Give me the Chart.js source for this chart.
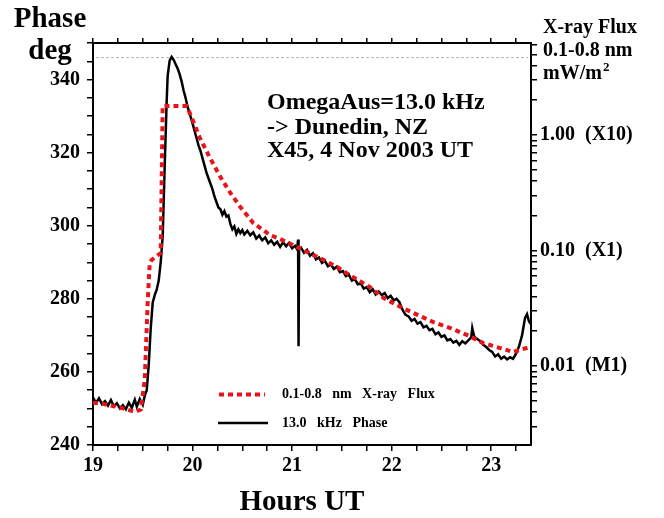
<!DOCTYPE html>
<html>
<head>
<meta charset="utf-8">
<script src="https://cdn.jsdelivr.net/npm/chart.js@4.4.1/dist/chart.umd.min.js"></script>
<style>
  html, body { margin: 0; padding: 0; background: #fff; }
  #wrap { width: 664px; height: 518px; }
</style>
</head>
<body>
<div id="wrap"><canvas id="phaseChart" width="664" height="518"></canvas></div>
<script>
// 13.0 kHz phase (deg) vs time (hours UT)
const phasePoints = [
  [19.00,253.0],[19.03,251.5],[19.06,252.8],[19.09,251.2],[19.12,252.0],[19.15,250.8],[19.18,252.3],
  [19.21,250.6],[19.24,251.4],[19.27,250.0],[19.30,250.9],[19.33,249.8],[19.36,251.6],[19.39,250.2],
  [19.42,252.4],[19.44,250.5],[19.47,252.6],[19.50,251.0],[19.52,253.5],[19.54,255],[19.56,262],
  [19.58,272],[19.60,279],[19.62,281],[19.64,282.5],[19.66,285],[19.68,290],[19.70,297],[19.72,316],
  [19.74,334],[19.75,341],[19.77,345.2],[19.79,346.2],[19.81,345.4],[19.83,344.2],[19.85,343],
  [19.87,341.5],[19.89,339.5],[19.91,337],[19.93,335],[19.95,332.5],[19.97,330.8],[20.00,328],
  [20.02,326],[20.04,324],[20.06,322],[20.08,320.5],[20.10,318.5],[20.12,316.5],[20.14,314.5],
  [20.16,313],[20.18,311.5],[20.20,310],[20.22,308],[20.24,306.5],[20.26,305],[20.28,304.5],
  [20.30,303],[20.32,304],[20.34,302.5],[20.36,302.8],[20.38,300.5],[20.40,299],[20.42,299.8],
  [20.44,297.8],[20.46,299],[20.48,298],[20.50,298.8],[20.52,297.6],[20.55,298.6],[20.58,297.4],
  [20.61,298.2],[20.64,296.5],[20.67,297.3],[20.70,296],[20.73,296.8],[20.76,295.2],[20.79,296],
  [20.82,294.8],[20.85,295.6],[20.88,294.2],[20.91,295.5],[20.94,294.4],[20.97,295.3],[21.00,293.8],
  [21.03,294.5],[21.05,293.6],[21.06,296.2],[21.065,267],[21.07,293.5],[21.09,294],[21.12,292.6],
  [21.15,293.4],[21.18,291.8],[21.21,292.5],[21.24,290.8],[21.27,291.3],[21.30,289.8],[21.33,290.4],
  [21.36,288.9],[21.39,289.4],[21.42,288.2],[21.45,288.8],[21.48,287.3],[21.51,287.6],[21.54,286.2],
  [21.57,286.6],[21.60,285],[21.63,285.4],[21.66,284],[21.69,284.2],[21.72,282.8],[21.75,283.2],
  [21.78,281.8],[21.81,282.6],[21.84,281.2],[21.87,282],[21.90,281],[21.93,281.6],[21.96,280.2],
  [21.99,280.8],[22.02,279.6],[22.05,280],[22.08,279],[22.10,277.5],[22.12,276.5],[22.14,275.6],
  [22.17,275.2],[22.20,274],[22.23,274.5],[22.26,273.2],[22.29,273.6],[22.32,272.2],[22.35,272.6],
  [22.38,271.4],[22.41,271.8],[22.44,270.3],[22.47,270.8],[22.50,269.6],[22.53,270],[22.56,268.6],
  [22.59,269],[22.62,268],[22.65,268.5],[22.68,267.4],[22.71,268.4],[22.74,267.8],[22.77,268.6],
  [22.80,269.5],[22.81,272],[22.83,269.6],[22.86,269],[22.89,268.4],[22.92,267.4],[22.95,266.8],
  [22.98,266],[23.01,265.5],[23.04,264.2],[23.07,264.8],[23.10,263.6],[23.13,264.2],[23.16,263.4],
  [23.19,264],[23.22,263.6],[23.25,265],[23.28,267],[23.31,270],[23.34,274.8],[23.36,275.8],
  [23.38,273.8],[23.40,273]
];

// GOES 0.1-0.8 nm X-ray flux (mW/m^2) vs time (hours UT)
const fluxPoints = [
  [19.00,0.0048],[19.10,0.0047],[19.20,0.0045],[19.30,0.0043],[19.42,0.0040],[19.48,0.0042],
  [19.52,0.0076],[19.55,0.037],[19.57,0.078],[19.59,0.083],[19.65,0.091],[19.68,0.095],
  [19.70,1.78],[19.94,1.78],[19.99,1.43],[20.07,0.96],[20.17,0.645],[20.28,0.433],[20.38,0.315],
  [20.48,0.238],[20.61,0.173],[20.78,0.136],[20.95,0.1185],[21.11,0.101],[21.28,0.086],
  [21.45,0.072],[21.61,0.059],[21.78,0.0483],[21.92,0.0388],[22.09,0.0324],[22.26,0.0277],
  [22.42,0.0240],[22.59,0.0213],[22.76,0.0185],[22.92,0.0158],[23.09,0.0143],[23.22,0.0132],
  [23.29,0.0138],[23.39,0.0146]
];

// reference level of the phase peak
const peakLevel = 346;
const peakSpan = [19.03, 23.37];

const hourMajor = [19, 20, 21, 22, 23];
const phaseMajor = [240, 260, 280, 300, 320, 340];
const fluxMajor = [0.01, 0.1, 1];
const fluxLabels = ['0.01  (M1)', '0.10  (X1)', '1.00  (X10)'];

const xRange = [19, 23.4];
const phaseRange = [240, 350];
const fluxRange = [0.00207, 6.26];

const serif = '"Liberation Serif", "Times New Roman", serif';
const tickFont = { family: serif, weight: 'bold', size: 20 };

function toXY(pairs) {
  return pairs.map(p => ({ x: p[0], y: p[1] }));
}

function hourTicks(scale) {
  const ticks = [];
  for (let i = 0; 19 + i * 0.25 <= xRange[1] + 1e-9; i++) {
    ticks.push({ value: 19 + i * 0.25 });
  }
  scale.ticks = ticks;
}

function axisGrid(len) {
  return { drawOnChartArea: false, drawTicks: true, tickLength: len, color: '#000', lineWidth: 1.5 };
}

const axisBorder = { display: true, color: '#000', width: 2 };

// titles, annotation and legend drawn straight on the canvas
const textPlugin = {
  id: 'textPlugin',
  afterDraw(chart) {
    const ctx = chart.ctx;
    ctx.save();
    ctx.fillStyle = '#000';
    ctx.textBaseline = 'alphabetic';

    ctx.font = 'bold 29px ' + serif;
    ctx.textAlign = 'center';
    ctx.fillText('Phase', 50, 27);
    ctx.fillText('deg', 50, 59);
    ctx.fillText('Hours UT', 302, 510);

    ctx.textAlign = 'left';
    ctx.font = 'bold 20px ' + serif;
    ctx.fillText('X-ray Flux', 543, 33);
    ctx.fillText('0.1-0.8 nm', 543, 56);
    ctx.fillText('mW/m', 543, 79);
    const w = ctx.measureText('mW/m').width;
    ctx.font = 'bold 13px ' + serif;
    ctx.fillText('2', 543 + w + 1, 71);

    ctx.font = 'bold 24px ' + serif;
    ctx.fillText('OmegaAus=13.0 kHz', 267, 109);
    ctx.fillText('-> Dunedin, NZ', 267, 134);
    ctx.fillText('X45, 4 Nov 2003 UT', 267, 157);

    // legend
    ctx.lineWidth = 4;
    ctx.strokeStyle = '#e8141a';
    ctx.setLineDash([5, 4]);
    ctx.beginPath();
    ctx.moveTo(219, 394.5);
    ctx.lineTo(265, 394.5);
    ctx.stroke();
    ctx.setLineDash([]);
    ctx.lineWidth = 2.5;
    ctx.strokeStyle = '#000';
    ctx.beginPath();
    ctx.moveTo(218, 423);
    ctx.lineTo(268, 423);
    ctx.stroke();

    ctx.font = 'bold 14px ' + serif;
    ctx.fillText('0.1-0.8   nm   X-ray   Flux', 282, 398);
    ctx.fillText('13.0   kHz   Phase', 282, 427);
    ctx.restore();
  }
};

const ctx = document.getElementById('phaseChart').getContext('2d');
new Chart(ctx, {
  type: 'line',
  data: {
    datasets: [
      {
        label: '0.1-0.8 nm X-ray Flux',
        data: toXY(fluxPoints),
        yAxisID: 'y2',
        borderColor: '#e8141a',
        borderWidth: 4,
        borderDash: [5, 4],
        pointRadius: 0,
        tension: 0
      },
      {
        label: '13.0 kHz Phase',
        data: toXY(phasePoints),
        yAxisID: 'y',
        borderColor: '#000',
        borderWidth: 2.5,
        pointRadius: 0,
        tension: 0
      },
      {
        label: 'peak',
        data: [{ x: peakSpan[0], y: peakLevel }, { x: peakSpan[1], y: peakLevel }],
        yAxisID: 'y',
        borderColor: '#b4b4b4',
        borderWidth: 1,
        borderDash: [3, 2],
        pointRadius: 0
      }
    ]
  },
  options: {
    responsive: false,
    animation: false,
    devicePixelRatio: 1,
    layout: { padding: 0 },
    plugins: {
      legend: { display: false },
      tooltip: { enabled: false }
    },
    scales: {
      x: {
        type: 'linear',
        position: 'bottom',
        min: xRange[0],
        max: xRange[1],
        afterBuildTicks: hourTicks,
        afterFit: s => { s.height = 73; },
        grid: axisGrid(6),
        border: axisBorder,
        ticks: {
          autoSkip: false,
          maxRotation: 0,
          padding: 3,
          color: '#000',
          font: tickFont,
          callback: v => hourMajor.includes(v) ? String(v) : ''
        }
      },
      x2: {
        type: 'linear',
        position: 'top',
        min: xRange[0],
        max: xRange[1],
        afterBuildTicks: hourTicks,
        afterFit: s => { s.height = 43; },
        grid: axisGrid(5),
        border: axisBorder,
        ticks: { autoSkip: false, maxRotation: 0, callback: () => '' }
      },
      y: {
        type: 'linear',
        position: 'left',
        min: phaseRange[0],
        max: phaseRange[1],
        afterBuildTicks: scale => {
          const ticks = [];
          for (let v = phaseRange[0]; v <= phaseRange[1]; v += 5) ticks.push({ value: v });
          scale.ticks = ticks;
        },
        afterFit: s => { s.width = 93; },
        grid: axisGrid(6),
        border: axisBorder,
        ticks: {
          autoSkip: false,
          padding: 7,
          color: '#000',
          font: tickFont,
          callback: v => phaseMajor.includes(v) ? String(v) : ''
        }
      },
      y2: {
        type: 'logarithmic',
        position: 'right',
        min: fluxRange[0],
        max: fluxRange[1],
        afterBuildTicks: scale => {
          const ticks = [];
          for (let e = -3; e <= 0; e++) {
            for (let m = 1; m <= 9; m++) {
              const v = m * Math.pow(10, e);
              if (v >= fluxRange[0] && v <= fluxRange[1]) ticks.push({ value: v });
            }
          }
          scale.ticks = ticks;
        },
        afterFit: s => { s.width = 133; },
        grid: axisGrid(6),
        border: axisBorder,
        ticks: {
          autoSkip: false,
          padding: 3,
          color: '#000',
          font: tickFont,
          callback: v => {
            const i = fluxMajor.findIndex(f => Math.abs(f - v) / f < 1e-6);
            return i >= 0 ? fluxLabels[i] : '';
          }
        }
      }
    }
  },
  plugins: [textPlugin]
});
</script>
</body>
</html>
